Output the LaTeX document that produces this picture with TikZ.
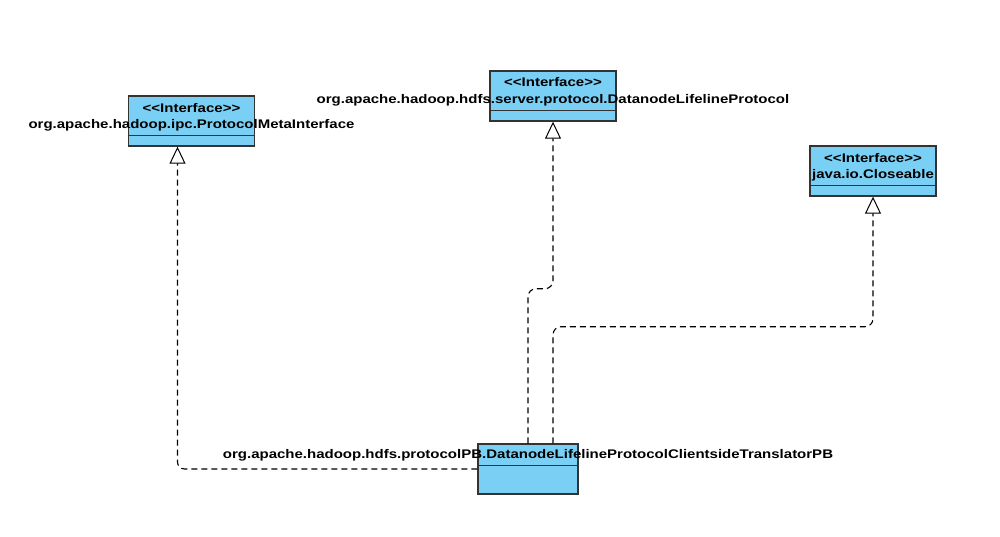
\documentclass[tikz,border=0pt]{standalone}
\usepackage{fontspec}
\setmainfont{Liberation Sans}
\newfontfamily\labelfont[FakeStretch=1.2]{Liberation Sans}
\usetikzlibrary{arrows.meta,calc}
\definecolor{classfill}{RGB}{122,207,245}
\definecolor{classline}{RGB}{51,51,51}
\newcommand{\stereo}[1]{<{}<#1>{}>}
\begin{document}
\begin{tikzpicture}[x=1pt,y=-1pt,
  classbox/.style={draw=classline,fill=classfill,line width=1.4pt,rectangle,
    minimum height=50pt,inner sep=0pt},
  classtext/.style={font=\labelfont\bfseries\fontsize{12.5}{14}\selectfont,inner sep=0pt,anchor=center},
  realize/.style={dashed,dash pattern=on 6pt off 4pt,line width=1.1pt,
    -{Triangle[open,length=17pt,width=16pt,fill=white,line width=1pt]}},
  sep/.style={draw=classline,line width=1.4pt}]
\useasboundingbox (0,0) rectangle (1000,537);

% class boxes
\node[classbox,minimum width=126pt] (meta) at (191.5,121) {};
\node[classbox,minimum width=126pt] (life) at (553,96) {};
\node[classbox,minimum width=126pt] (close) at (873,171) {};
\node[classbox,minimum width=100pt] (trans) at (528,469) {};

% compartment separators
\draw[sep] ($(meta.south west)+(0,-11)$) -- ($(meta.south east)+(0,-11)$);
\draw[sep] ($(life.south west)+(0,-11)$) -- ($(life.south east)+(0,-11)$);
\draw[sep] ($(close.south west)+(0,-11)$) -- ($(close.south east)+(0,-11)$);
\draw[sep] ($(trans.north west)+(0,22)$) -- ($(trans.north east)+(0,22)$);

% realization connectors
\draw[realize,rounded corners=7pt] (trans.west) -| ($(meta.south)+(-14,0)$);
\draw[realize,rounded corners=8pt] (trans.north) |- ($(life.south)+(0,167)$) -- (life.south);
\draw[realize,rounded corners=8pt] ($(trans.north)+(25,0)$) |- ($(close.south)+(0,130)$) -- (close.south);

% labels
\node[classtext] (metast) at (191.5,108.5) {\stereo{Interface}};
\node[classtext] (metanm) at (191.5,125.5) {org.apache.hadoop.ipc.ProtocolMetaInterface};
\node[classtext] (lifest) at (553,82.5) {\stereo{Interface}};
\node[classtext] (lifenm) at (553,100.5) {org.apache.hadoop.hdfs.server.protocol.DatanodeLifelineProtocol};
\node[classtext] (closest) at (873,158.5) {\stereo{Interface}};
\node[classtext] (closenm) at (873,175.5) {java.io.Closeable};
\node[classtext] (transnm) at (528,455.5) {org.apache.hadoop.hdfs.protocolPB.DatanodeLifelineProtocolClientsideTranslatorPB};
\end{tikzpicture}
\end{document}
